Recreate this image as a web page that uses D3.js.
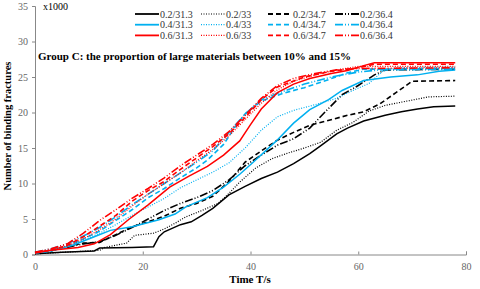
<!DOCTYPE html>
<html>
<head>
<script src="https://cdn.jsdelivr.net/npm/d3@7"></script>
<style type="text/css">
  body { margin: 0; background: #fff; }
  text { font-family: "Liberation Serif", "Times New Roman", serif; }
</style>
</head>
<body>
<script>

// x values are time in s, y values in thousands of binding fractures
var b313 = [[0,0.1],[5,0.3],[11,0.5],[12,0.9],[18,1.0],[22,1.1],[23,2.5],[24,3.2],[27,4.2],[29,4.6],[31,5.5],[33,6.5],[36,8.4],[39,9.6],[42,10.7],[45,11.6],[48,12.8],[51,14.2],[53,15.3],[56,17],[58,17.8],[61,18.8],[65,19.6],[68,20.1],[71,20.5],[74,20.8],[78,20.9]];
var b33 = [[0,0.1],[5,0.3],[10,0.5],[12,0.6],[13,1.0],[17,1.6],[18.5,2.7],[22,3.0],[24,3.6],[26,4.4],[28,5.3],[31,6.2],[34,7.2],[36,8.6],[38,10.2],[41,12.2],[44,13.5],[47,14.3],[50,15],[53,15.8],[56,17.5],[59,18.6],[62,20.2],[65,21.0],[69,21.6],[73,22.2],[78,22.3]];
var b347 = [[0,0.2],[3,0.5],[6,1.2],[9,1.6],[12,1.7],[15,2.8],[18,3.9],[21,4.6],[24,5.4],[27,6.5],[30,7.2],[33,8.2],[36,10.3],[39,13.0],[42,14.6],[45,16.1],[48,17.2],[51,18.2],[54,18.8],[58,19.6],[61,20.1],[64,21.2],[67,22.8],[70,24.4],[78,24.5]];
var b364 = [[0,0.3],[3,0.6],[6,1.0],[9,1.5],[12,1.8],[15,2.7],[18,3.8],[21,5.0],[24,6.2],[27,7.2],[30,8.0],[33,9.0],[36,10.5],[39,12.5],[42,14.0],[45,15.4],[48,16.3],[51,17.8],[54,20.2],[57,22.5],[60,23.8],[63,25.3],[65,26.0],[78,26.1]];

var u313 = [[0,0.2],[4,0.7],[7,1.3],[11,2.5],[14,3.4],[18,3.9],[20,4.3],[23,4.9],[26,5.7],[28,6.7],[32,8.0],[35,9.5],[38,11.3],[40.5,13],[44.8,16],[48,18.5],[51,20.4],[54.5,21.8],[57,23.1],[61,24.5],[66,25],[71,25.3],[75,25.8],[78,26]];
var u33 = [[0,0.2],[3,0.5],[6,1.2],[9,2.0],[12,3.0],[15,4.2],[18,5.5],[21,6.7],[24,7.9],[27,9.4],[30,10.5],[33,11.6],[36,12.9],[39,15.0],[42,17.5],[45,19.4],[48,20.3],[52,21.1],[56,22.0],[59,23.1],[62,24.1],[64.5,25.8],[67,26.3],[78,26.4]];
var u347 = [[0,0.2],[3,0.5],[6,1.2],[9,2.2],[12,3.3],[15,4.8],[18,6.3],[21,8.0],[24,9.3],[27,10.8],[30,12.2],[32,13.3],[35,15.5],[37,17.8],[39,19.8],[42,21.6],[46,22.7],[50,23.5],[54,24.5],[58,25.6],[61,26.1],[78,26.2]];
var u364 = [[0,0.3],[3,0.8],[6,1.5],[9,2.6],[12,3.8],[15,5.3],[18,7.0],[21,8.5],[24,10],[27,11.5],[30,13],[33,14.6],[36,17.2],[39,19.8],[42,21.8],[45,22.7],[50,24],[55,25],[60,25.7],[64,26],[78,26.1]];

var r313 = [[0,0.2],[3,0.6],[8,1.0],[11,1.5],[14,2.8],[17.5,5.0],[21,7.0],[25,9.5],[28.5,11],[32,12.4],[35,14],[38,16],[40,18.3],[42,20.5],[45,22.8],[48,24],[51,24.8],[55,25.5],[58,25.9],[61,26.6],[63,27],[78,27]];
var r33 = [[0,0.2],[3,0.6],[6,1.2],[9,2.2],[12,3.5],[15,5.0],[18,6.8],[21,8.5],[24,10],[27,11.5],[30,13.2],[33,14.8],[36,16.7],[39,19.0],[42,21.3],[45,23.2],[48,24.4],[52,25.3],[56,26],[60,26.5],[78,26.5]];
var r347 = [[0,0.3],[3,0.6],[6,1.3],[9,2.5],[12,4.0],[15,5.5],[18,7.5],[21,9.0],[24,10.3],[27,12.0],[30,13.6],[33,15.2],[36,17.0],[39,19.3],[42,21.8],[45,23.6],[50,25],[55,25.8],[60,26.3],[63,26.8],[78,26.8]];
var r364 = [[0,0.3],[3,0.8],[6,1.5],[9,3.0],[12,4.8],[15,6.3],[18,7.9],[21,9.3],[24,10.8],[27,12.5],[30,14.0],[33,15.5],[36,17.3],[39,19.6],[42,22.0],[45,23.8],[48,24.8],[52,25.5],[56,26],[60,26.2],[78,26.3]];

var names = ["0.2/31.3","0.2/33","0.2/34.7","0.2/36.4",
             "0.4/31.3","0.4/33","0.4/34.7","0.4/36.4",
             "0.6/31.3","0.6/33","0.6/34.7","0.6/36.4"];
var series = [b313,b33,b347,b364,u313,u33,u347,u364,r313,r33,r347,r364];
var xTicks = [0,20,40,60,80];
var yTicks = [0,5,10,15,20,25,30,35];

var colors = ["#000000","#00b0f0","#ff0000"];
var dashes = [null,"1,1.5","5,3","8,2,1,2,1,2"];

var canvas = d3.select("body").append("svg")
	.attr("width", 480)
	.attr("height", 289);

var x = d3.scaleLinear().domain([0,80]).range([35,466]);
var y = d3.scaleLinear().domain([0,35]).range([254.5,6]);

// axes
var xAxis = canvas.append("g")
	.attr("transform", "translate(0,254.5)")
	.call(d3.axisBottom(x).tickValues(xTicks).tickSize(-3).tickPadding(8));
var yAxis = canvas.append("g")
	.attr("transform", "translate(35,0)")
	.call(d3.axisLeft(y).tickValues(yTicks).tickSize(3).tickPadding(4));

[xAxis, yAxis].forEach(function (g) {
	g.select(".domain").attr("stroke", "#888");
	g.selectAll(".tick line").attr("stroke", "#888");
	g.selectAll(".tick text")
		.attr("fill", "#666")
		.style("font-family", "Liberation Serif")
		.style("font-size", "10px");
});

var line = d3.line()
	.x(function (d) { return x(d[0]); })
	.y(function (d) { return y(d[1]); });

series.forEach(function (s, i) {
	var c = colors[Math.floor(i/4)], k = i % 4;
	canvas.append("path")
		.attr("d", line(s))
		.attr("fill", "none")
		.attr("stroke", c)
		.attr("stroke-width", k == 0 ? 1.5 : (k == 1 ? 1.2 : 1.6))
		.attr("stroke-dasharray", dashes[k]);
});

// legend
var colX = [135, 201, 268, 335];
names.forEach(function (n, i) {
	var row = Math.floor(i/4), col = i % 4;
	var ly = 14 + row*10.7;
	canvas.append("line")
		.attr("x1", colX[col]).attr("x2", colX[col] + 24)
		.attr("y1", ly).attr("y2", ly)
		.attr("stroke", colors[row])
		.attr("stroke-width", col == 1 ? 1.2 : 1.8)
		.attr("stroke-dasharray", dashes[col]);
	canvas.append("text")
		.attr("x", colX[col] + 25)
		.attr("y", ly + 3.5)
		.attr("fill", "#333")
		.style("font-size", "10px")
		.text(n);
});

canvas.append("text")
	.attr("x", 43).attr("y", 10)
	.style("font-size", "10px")
	.text("x1000");

canvas.append("text")
	.attr("x", 38).attr("y", 60)
	.style("font-size", "11px")
	.style("font-weight", "bold")
	.text("Group C: the proportion of large materials between 10% and 15%");

canvas.append("text")
	.attr("x", 250).attr("y", 283)
	.attr("text-anchor", "middle")
	.style("font-size", "11px")
	.style("font-weight", "bold")
	.text("Time T/s");

canvas.append("text")
	.attr("transform", "translate(11,126) rotate(-90)")
	.attr("text-anchor", "middle")
	.style("font-size", "10.5px")
	.style("font-weight", "bold")
	.text("Number of binding fractures");

</script>
</body>
</html>
